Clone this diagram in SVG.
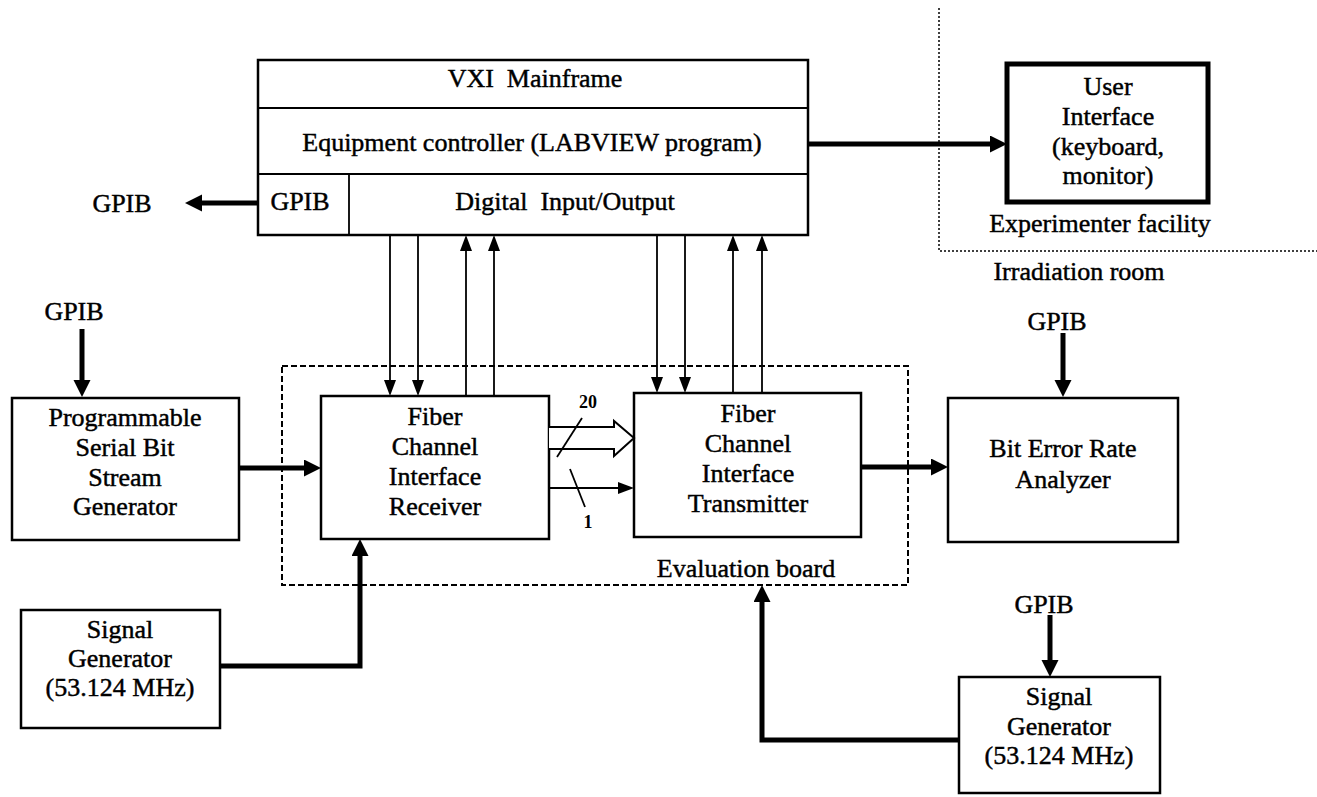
<svg xmlns="http://www.w3.org/2000/svg" width="1317" height="797" viewBox="0 0 1317 797">
<style>
text{font-family:"Liberation Serif","Times New Roman",serif;font-size:26px;fill:#000;stroke:#000;stroke-width:0.45;text-anchor:middle}
.sm{font-size:18px;font-weight:bold;stroke-width:0}
.box{fill:#fff;stroke:#000;stroke-width:2.5}
.thick{fill:none;stroke:#000;stroke-width:5;marker-end:url(#ah)}
.thin{fill:none;stroke:#000;stroke-width:1.8;marker-end:url(#ahs)}
.line{fill:none;stroke:#000;stroke-width:1.8}
</style>
<defs>
<marker id="ah" markerUnits="userSpaceOnUse" markerWidth="18" markerHeight="18" viewBox="0 0 18 18" refX="7" refY="8.5" orient="auto"><path d="M0,0 L17,8.5 L0,17 Z" fill="#000"/></marker>
<marker id="ahs" markerUnits="userSpaceOnUse" markerWidth="17" markerHeight="13" viewBox="0 0 17 13" refX="6" refY="6" orient="auto"><path d="M0,0 L16,6 L0,12 Z" fill="#000"/></marker>
</defs>
<rect width="1317" height="797" fill="#fff"/>

<g id="boundary">
<path d="M939,8 V251 H1317" fill="none" stroke="#000" stroke-width="1.5" stroke-dasharray="2,2"/>
<text x="1100" y="232">Experimenter facility</text>
<text x="1079" y="280">Irradiation room</text>
</g>

<g id="eval-board">
<rect x="282" y="366" width="626" height="219" fill="none" stroke="#000" stroke-width="2" stroke-dasharray="6,3"/>
<text x="746" y="577">Evaluation board</text>
</g>

<g id="mainframe">
<rect class="box" x="258" y="60" width="550" height="175"/>
<line class="line" x1="258" y1="108" x2="808" y2="108" stroke-width="2.5"/>
<line class="line" x1="258" y1="174" x2="808" y2="174" stroke-width="2.5"/>
<line class="line" x1="349" y1="174" x2="349" y2="235" stroke-width="2.5"/>
<text x="535" y="87">VXI&#160; Mainframe</text>
<text x="532" y="151">Equipment controller (LABVIEW program)</text>
<text x="300" y="210">GPIB</text>
<text x="565" y="210">Digital&#160; Input/Output</text>
</g>

<g id="user-interface">
<rect x="1007" y="64" width="201" height="138" fill="#fff" stroke="#000" stroke-width="5"/>
<text x="1108" y="95">User</text>
<text x="1108" y="125">Interface</text>
<text x="1108" y="155">(keyboard,</text>
<text x="1108" y="184">monitor)</text>
</g>

<g id="psbsg">
<rect class="box" x="12" y="398" width="227" height="142"/>
<text x="125" y="426">Programmable</text>
<text x="125" y="456">Serial Bit</text>
<text x="125" y="486">Stream</text>
<text x="125" y="515">Generator</text>
</g>

<g id="receiver">
<rect class="box" x="321" y="396" width="228" height="143"/>
<text x="435" y="425">Fiber</text>
<text x="435" y="455">Channel</text>
<text x="435" y="485">Interface</text>
<text x="435" y="515">Receiver</text>
</g>

<g id="transmitter">
<rect class="box" x="634" y="393" width="227" height="144"/>
<text x="748" y="422">Fiber</text>
<text x="748" y="452">Channel</text>
<text x="748" y="482">Interface</text>
<text x="748" y="512">Transmitter</text>
</g>

<g id="ber">
<rect class="box" x="948" y="398" width="230" height="144"/>
<text x="1063" y="457">Bit Error Rate</text>
<text x="1063" y="488">Analyzer</text>
</g>

<g id="siggen-left">
<rect class="box" x="21" y="610" width="199" height="118"/>
<text x="120" y="638">Signal</text>
<text x="120" y="667">Generator</text>
<text x="120" y="696">(53.124 MHz)</text>
</g>

<g id="siggen-right">
<rect class="box" x="959" y="677" width="201" height="116"/>
<text x="1059" y="705">Signal</text>
<text x="1059" y="735">Generator</text>
<text x="1059" y="764">(53.124 MHz)</text>
</g>

<g id="gpib-labels">
<text x="122" y="212">GPIB</text>
<text x="74" y="320">GPIB</text>
<text x="1057" y="330">GPIB</text>
<text x="1044" y="613">GPIB</text>
</g>

<g id="connectors">
<path class="thick" d="M808,144 H997"/>
<path class="thick" d="M258,203 H195"/>
<path class="thick" d="M82,329 V387"/>
<path class="thick" d="M239,468 H311"/>
<path class="thick" d="M861,467 H938"/>
<path class="thick" d="M1063,333 V387"/>
<path class="thick" d="M220,666 H360 V549" stroke-linejoin="miter"/>
<path class="thick" d="M959,740 H762 V595" stroke-linejoin="miter"/>
<path class="thick" d="M1050,615 V667"/>

<path class="thin" d="M390,235 V386"/>
<path class="thin" d="M418,235 V386"/>
<path class="thin" d="M466,396 V245"/>
<path class="thin" d="M494,396 V245"/>
<path class="thin" d="M657,235 V383"/>
<path class="thin" d="M685,235 V383"/>
<path class="thin" d="M733,393 V245"/>
<path class="thin" d="M762,393 V245"/>

<path d="M549,427 H614 V421 L634,438 L614,456 V449 H549" fill="#fff" stroke="#000" stroke-width="2"/>
<path class="thin" d="M549,488 H624"/>
<line class="line" x1="557" y1="457" x2="582" y2="418"/>
<line class="line" x1="570" y1="469" x2="585" y2="507"/>
<text class="sm" x="588" y="408">20</text>
<text class="sm" x="588" y="528">1</text>
</g>
</svg>
